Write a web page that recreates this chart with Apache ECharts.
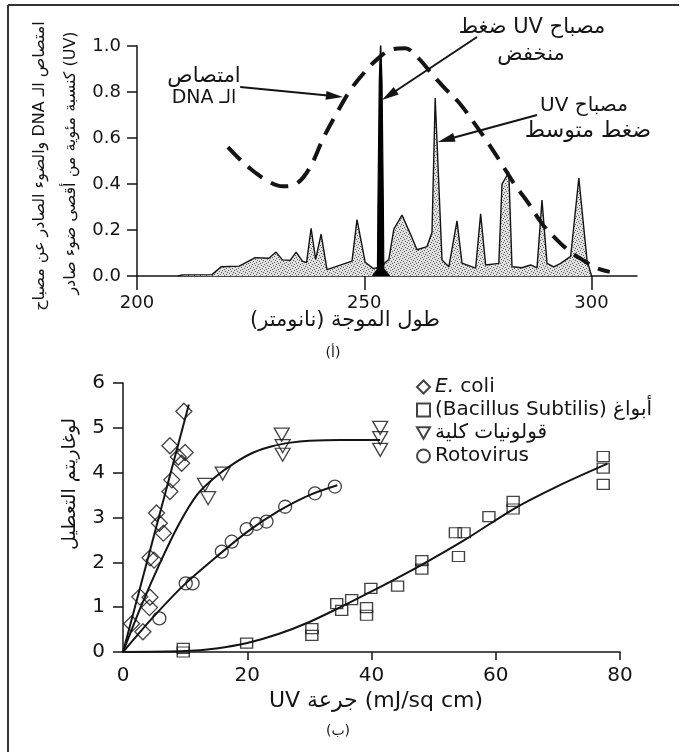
<!DOCTYPE html>
<html><head><meta charset="utf-8">
<script src="https://cdn.jsdelivr.net/npm/echarts@6/dist/echarts.min.js"></script>
<style>html,body{margin:0;padding:0;background:#fff}#c{width:682px;height:752px}</style>
</head><body><div id="c"></div>
<script>
// ---------- Panel (أ): DNA absorption and lamp emission ----------
const dnaWavelength = [220,223,226,229,232,235,238,241,244,247,250,253,256,259,262,265,268,271,274,277,280,283,286,289,292,295,298,301,304];
const dnaAbsorption = [0.56,0.50,0.45,0.41,0.39,0.40,0.47,0.60,0.71,0.81,0.885,0.945,0.985,0.99,0.945,0.875,0.81,0.75,0.67,0.585,0.495,0.40,0.32,0.23,0.165,0.11,0.07,0.035,0.018];
const mpWavelength = [209,210,216.5,218.5,222.5,226,229,230.6,232,233.7,235,236.4,237.3,238.3,239.3,240.5,241.8,247.3,248.4,250.2,252,253.5,255.4,256.5,258.3,260.2,261.6,263.8,264.9,265.6,267.1,268.6,270.4,271.5,274.5,275.6,276.7,279.6,280.3,281.8,282.5,284.7,286.6,288,289.1,290.2,291.7,293.2,295.4,297.2,299,300];
const mpEmission = [0,0.005,0.006,0.04,0.043,0.08,0.077,0.104,0.07,0.068,0.104,0.065,0.058,0.207,0.072,0.182,0.028,0.065,0.245,0.06,0.032,0.04,0.072,0.204,0.265,0.18,0.114,0.128,0.19,0.774,0.07,0.04,0.24,0.056,0.034,0.27,0.048,0.055,0.40,0.45,0.04,0.036,0.048,0.035,0.33,0.055,0.04,0.055,0.085,0.426,0.07,0];
const lpWavelength = [251.8,252.9,253.0,253.3,253.6,253.9,254.2,254.3,255.6];
const lpEmission = [0,0.03,0.3,0.85,1.02,0.85,0.3,0.03,0];
const topXTicks = [200,250,300];

// ---------- Panel (ب): log inactivation vs UV dose ----------
const ecoliDose = [1.4,3.2,2.7,4.35,4.25,4.35,5.0,5.4,5.85,6.5,7.55,7.85,7.55,8.9,9.45,10.0,9.8];
const ecoliLog  = [0.63,0.45,1.23,1.22,0.99,2.1,2.05,3.1,2.87,2.65,3.58,3.84,4.6,4.35,4.21,4.45,5.37];
const ecoliFitDose = [0,10.6];
const ecoliFitLog  = [0,5.52];

const sporeDose = [9.7,9.7,19.9,30.4,30.4,34.4,35.2,36.8,39.2,39.2,39.9,44.2,48.1,48.1,53.5,54.9,54.0,58.9,62.8,62.8,77.3,77.3,77.3];
const sporeLog  = [0.08,0.0,0.2,0.52,0.37,1.08,0.93,1.17,0.99,0.82,1.42,1.47,2.04,1.85,2.66,2.66,2.13,3.02,3.36,3.19,4.36,4.1,3.74];
const sporeFitDose = [0,10,15,20,25,30,35,40,48,55,63,70,78];
const sporeFitLog  = [0,0.02,0.08,0.2,0.4,0.67,1.0,1.35,1.94,2.5,3.2,3.7,4.2];

const coliformDose = [13.2,13.7,16.05,25.55,25.7,25.7,41.4,41.4,41.4];
const coliformLog  = [3.73,3.43,3.98,4.85,4.59,4.4,5.0,4.77,4.51];
const coliformFitDose = [0,3,6,9,12,15,18,21,24,27,30,35,41.4];
const coliformFitLog  = [0,1.05,2.0,2.85,3.52,3.92,4.22,4.45,4.59,4.67,4.71,4.73,4.73];

const rotaDose = [5.85,10.1,11.2,15.9,17.5,19.9,21.5,23.1,26.1,30.9,34.1];
const rotaLog  = [0.75,1.53,1.53,2.24,2.46,2.74,2.86,2.91,3.24,3.54,3.69];
const rotaFitDose = [0,5,10,15,20,25,30,34.5];
const rotaFitLog  = [0,0.8,1.52,2.12,2.68,3.14,3.5,3.72];

const bottomXTicks = [0,20,40,60,80];
const seriesNames = ['E. coli', '(Bacillus Subtilis) أبواغ', 'قولونيات كلية', 'Rotovirus'];

// ---------- helpers ----------
const zip = (a, b) => a.map((v, i) => [v, b[i]]);
const FONT = '"DejaVu Sans", "Liberation Sans", sans-serif';
const INK = '#141414';
const RLE = '\u202B', PDF = '\u202C';
const rtl = s => RLE + s + PDF;

function stipple() {
  const c = document.createElement('canvas');
  c.width = 6; c.height = 6;
  const g = c.getContext('2d');
  g.fillStyle = '#e0e0e0'; g.fillRect(0, 0, 6, 6);
  g.fillStyle = '#5e5e5e';
  [[0,0],[3,1],[1,3],[4,4],[5,2],[2,5]].forEach(p => g.fillRect(p[0], p[1], 1, 1));
  return c;
}

function txt(x, y, text, size, extra) {
  return Object.assign({
    type: 'text', x: x, y: y, silent: true, z: 50,
    style: { text: text, fontSize: size, fontFamily: FONT, fill: INK,
             align: 'center', verticalAlign: 'middle', textAlign: 'center', textVerticalAlign: 'middle' }
  }, extra || {});
}

const baseGraphics = [
  { type: 'line', silent: true, shape: { x1: 8, y1: 5, x2: 679, y2: 5 }, style: { stroke: '#333', lineWidth: 2 } },
  { type: 'line', silent: true, shape: { x1: 8, y1: 5, x2: 8, y2: 752 }, style: { stroke: '#333', lineWidth: 2 } },
  // panel (أ) texts
  txt(40, 166, rtl('امتصاص الـ DNA والضوء الصادر عن مصباح'), 16, { rotation: Math.PI / 2 }),
  txt(71, 163, rtl('(UV) كنسبة مئوية من أقصى ضوء صادر'), 16, { rotation: Math.PI / 2 }),
  txt(345, 321, rtl('طول الموجة (نانومتر)'), 21),
  txt(333, 353, rtl('(أ)'), 14),
  txt(204, 77, rtl('امتصاص'), 21),
  txt(204, 98, rtl('الـ DNA'), 19),
  txt(532, 28, rtl('مصباح UV ضغط'), 21),
  txt(531, 55, rtl('منخفض'), 21),
  txt(584, 106, rtl('مصباح UV'), 20),
  txt(588, 131, rtl('ضغط متوسط'), 22),
  // panel (ب) texts
  txt(70, 484, rtl('لوغاريتم التعطيل'), 19, { rotation: Math.PI / 2 }),
  txt(376, 701, 'UV جرعة (mJ/sq cm)', 22),
  txt(338, 731, rtl('(ب)'), 14)
];

// arrows, in data coordinates of panel (أ)
const arrowDefs = [
  [[222.7, 0.822], [245.3, 0.778]],
  [[274.8, 1.039], [253.9, 0.765]],
  [[288.0, 0.700], [266.2, 0.583]]
];

const hollow = { color: 'rgba(0,0,0,0)', borderColor: INK, borderWidth: 1.3 };
const fitLine = { color: INK, width: 2 };

const option = {
  animation: false,
  backgroundColor: '#fff',
  textStyle: { fontFamily: FONT },
  grid: [
    { left: 137, top: 46, width: 500, height: 230 },
    { left: 123, top: 383, width: 497, height: 269 }
  ],
  xAxis: [
    { type: 'value', gridIndex: 0, min: 200, max: 310, splitLine: { show: false },
      axisLine: { onZero: false, lineStyle: { color: INK, width: 1.5 } },
      axisTick: { customValues: topXTicks, length: 14, lineStyle: { color: INK, width: 1.5 } },
      axisLabel: { customValues: topXTicks, fontSize: 18, color: INK, margin: 18, fontFamily: FONT } },
    { type: 'value', gridIndex: 1, min: 0, max: 80, splitLine: { show: false },
      axisLine: { onZero: false, lineStyle: { color: INK, width: 1.5 } },
      axisTick: { customValues: [20, 40, 60, 80], length: 8, lineStyle: { color: INK, width: 1.5 } },
      axisLabel: { customValues: bottomXTicks, fontSize: 20, color: INK, margin: 14, fontFamily: FONT } }
  ],
  yAxis: [
    { type: 'value', gridIndex: 0, min: 0, max: 1.0, interval: 0.2, splitLine: { show: false },
      axisLine: { show: true, onZero: false, lineStyle: { color: INK, width: 1.5 } },
      axisTick: { show: true, length: 10, lineStyle: { color: INK, width: 1.5 } },
      axisLabel: { fontSize: 18, color: INK, margin: 16, fontFamily: FONT, formatter: v => v.toFixed(1) } },
    { type: 'value', gridIndex: 1, min: 0, max: 6, interval: 1, splitLine: { show: false },
      axisLine: { show: true, onZero: false, lineStyle: { color: INK, width: 1.5 } },
      axisTick: { show: true, length: 10, lineStyle: { color: INK, width: 1.5 } },
      axisLabel: { fontSize: 20, color: INK, margin: 18, fontFamily: FONT } }
  ],
  legend: {
    data: seriesNames, orient: 'vertical', left: 411, top: 372,
    itemWidth: 13, itemHeight: 13, itemGap: 3, itemTextGap: 9, selectedMode: false,
    textStyle: { fontSize: 20, lineHeight: 20, color: INK, fontFamily: FONT,
                 rich: { i: { fontStyle: 'italic', fontSize: 20, lineHeight: 20, color: INK, fontFamily: FONT } } },
    formatter: name => name === 'E. coli' ? '{i|E.} coli' : name
  },
  series: [
    { name: 'mp', type: 'line', xAxisIndex: 0, yAxisIndex: 0, data: zip(mpWavelength, mpEmission),
      showSymbol: false, symbol: 'none', z: 2, silent: true,
      lineStyle: { color: INK, width: 1.4 },
      areaStyle: { color: { image: stipple(), repeat: 'repeat' }, opacity: 1 } },
    { name: 'lp', type: 'line', xAxisIndex: 0, yAxisIndex: 0, data: zip(lpWavelength, lpEmission),
      showSymbol: false, symbol: 'none', z: 3, silent: true,
      lineStyle: { color: '#000', width: 1.2 }, areaStyle: { color: '#000', opacity: 1 } },
    { name: 'dna', type: 'line', xAxisIndex: 0, yAxisIndex: 0, data: zip(dnaWavelength, dnaAbsorption),
      showSymbol: false, symbol: 'none', smooth: 0.35, z: 4, silent: true,
      lineStyle: { color: INK, width: 4, type: [18, 10] } },

    { name: seriesNames[0], type: 'scatter', xAxisIndex: 1, yAxisIndex: 1, data: zip(ecoliDose, ecoliLog),
      symbol: 'diamond', symbolSize: 16, itemStyle: hollow, z: 2 },
    { name: seriesNames[1], type: 'scatter', xAxisIndex: 1, yAxisIndex: 1, data: zip(sporeDose, sporeLog),
      symbol: 'rect', symbolSize: [12, 10], itemStyle: hollow, z: 2 },
    { name: seriesNames[2], type: 'scatter', xAxisIndex: 1, yAxisIndex: 1, data: zip(coliformDose, coliformLog),
      symbol: 'path://M0,0 L16,0 L8,14 Z', symbolSize: [15, 13], itemStyle: hollow, z: 2 },
    { name: seriesNames[3], type: 'scatter', xAxisIndex: 1, yAxisIndex: 1, data: zip(rotaDose, rotaLog),
      symbol: 'circle', symbolSize: 13, itemStyle: hollow, z: 2 },

    { name: 'ecoliFit', type: 'line', xAxisIndex: 1, yAxisIndex: 1, data: zip(ecoliFitDose, ecoliFitLog),
      showSymbol: false, symbol: 'none', lineStyle: fitLine, z: 3, silent: true },
    { name: 'sporeFit', type: 'line', xAxisIndex: 1, yAxisIndex: 1, data: zip(sporeFitDose, sporeFitLog),
      showSymbol: false, symbol: 'none', smooth: 0.3, lineStyle: fitLine, z: 3, silent: true },
    { name: 'coliformFit', type: 'line', xAxisIndex: 1, yAxisIndex: 1, data: zip(coliformFitDose, coliformFitLog),
      showSymbol: false, symbol: 'none', smooth: 0.3, lineStyle: fitLine, z: 3, silent: true },
    { name: 'rotaFit', type: 'line', xAxisIndex: 1, yAxisIndex: 1, data: zip(rotaFitDose, rotaFitLog),
      showSymbol: false, symbol: 'none', smooth: 0.3, lineStyle: fitLine, z: 3, silent: true }
  ],
  graphic: { elements: baseGraphics }
};

const chart = echarts.init(document.getElementById('c'), null, { renderer: 'canvas' });
chart.setOption(option);

// build arrows from data coordinates
const arrowGraphics = [];
arrowDefs.forEach(def => {
  const a = chart.convertToPixel({ gridIndex: 0 }, def[0]);
  const b = chart.convertToPixel({ gridIndex: 0 }, def[1]);
  const dx = b[0] - a[0], dy = b[1] - a[1];
  const len = Math.hypot(dx, dy), ux = dx / len, uy = dy / len;
  const headL = 17, headW = 4.5;
  const bx = b[0] - ux * headL, by = b[1] - uy * headL;
  arrowGraphics.push({ type: 'line', silent: true, z: 60,
    shape: { x1: a[0], y1: a[1], x2: bx + ux * 2, y2: by + uy * 2 }, style: { stroke: INK, lineWidth: 2 } });
  arrowGraphics.push({ type: 'polygon', silent: true, z: 60,
    shape: { points: [[b[0], b[1]], [bx - uy * headW, by + ux * headW], [bx + uy * headW, by - ux * headW]] },
    style: { fill: INK } });
});
chart.setOption({ graphic: { elements: baseGraphics.concat(arrowGraphics) } });
</script></body></html>
